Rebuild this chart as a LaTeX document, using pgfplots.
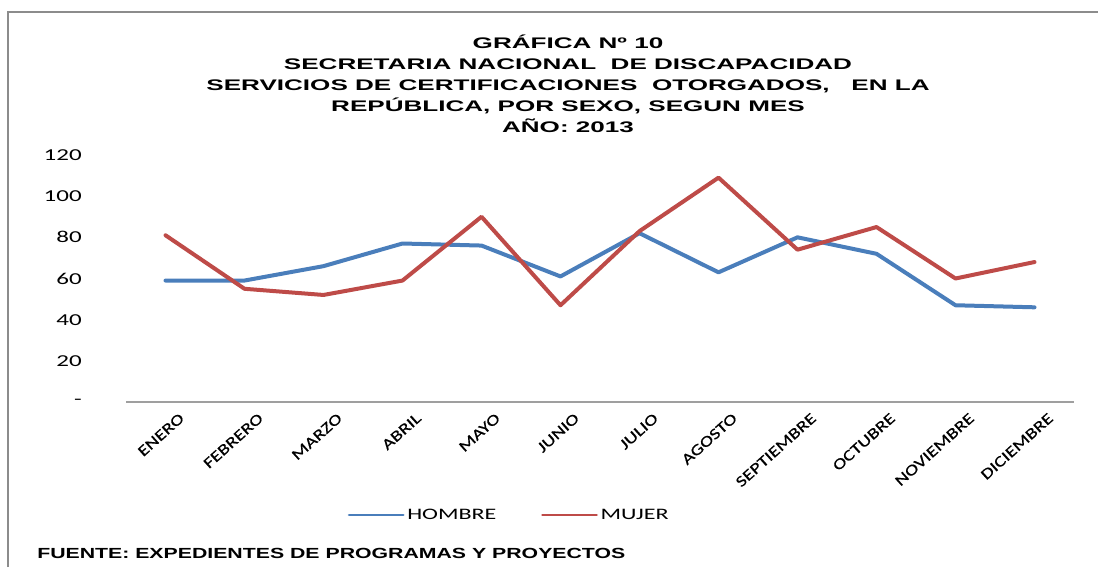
\documentclass[border=0pt]{standalone}
\usepackage{fontspec}
\usepackage{pgfplots}
\pgfplotsset{compat=1.18}
\setmainfont{Liberation Sans}
\newfontfamily\calw[FakeStretch=1.5]{Carlito}
\newfontfamily\calm[FakeStretch=1.3,FakeBold=0.6]{Carlito}
\newfontfamily\titf[FakeStretch=1.7]{Liberation Sans}
\newfontfamily\srcf[FakeStretch=1.45]{Liberation Sans}
\definecolor{hombre}{HTML}{4A7EBB}
\definecolor{mujer}{HTML}{BE4B48}
\definecolor{frame}{HTML}{8C8C8C}
\def\u{0.75pt}

\begin{document}
\begin{tikzpicture}
\path[use as bounding box] (0,0) rectangle ({1098*\u},{567*\u});
% outer chart frame (cut by the image edges)
\draw[frame, line width=1.2pt] ({8*\u},0) -- ({8*\u},{555*\u}) -- ({1098*\u},{555*\u});

\node[align=center, font=\titf\bfseries\fontsize{11.5}{15.75}\selectfont, anchor=north]
  at ({568*\u},{537*\u})
  {GRÁFICA Nº 10\\
   SECRETARIA NACIONAL \ DE DISCAPACIDAD\\
   SERVICIOS DE CERTIFICACIONES \ OTORGADOS, \ \ EN LA\\
   REPÚBLICA, POR SEXO, SEGUN MES\\
   AÑO: 2013};

\begin{axis}[
  at={({126*\u},{165*\u})}, anchor=south west,
  scale only axis, width={948*\u}, height={247*\u},
  xmin=-0.5, xmax=11.5, ymin=0, ymax=120,
  axis x line*=bottom, axis y line*=left,
  x axis line style={draw=gray!75, line width=1pt},
  y axis line style={draw=none},
  xtick={0,...,11},
  xticklabels={ENERO,FEBRERO,MARZO,ABRIL,MAYO,JUNIO,JULIO,AGOSTO,SEPTIEMBRE,OCTUBRE,NOVIEMBRE,DICIEMBRE},
  ytick={0,20,40,60,80,100,120},
  yticklabels={-,20,40,60,80,100,120},
  major tick length=0pt,
  xticklabel style={font=\calm\fontsize{11.5}{12}\selectfont, rotate=42, anchor=north east, inner sep=0pt, xshift={3*\u}, yshift={-16*\u}},
  yticklabel style={font=\calw\fontsize{12.5}{14}\selectfont, anchor=east, inner sep=0pt, xshift={-44*\u}},
  legend columns=2,
  legend style={draw=none, fill=none, at={(0.4045,-0.4575)}, anchor=center,
    font=\calw\fontsize{12}{13}\selectfont, inner sep=0pt,
    /tikz/every even column/.append style={column sep={42*\u}}},
  legend image code/.code={\draw[#1, line width=2.2pt] (0pt,0pt) -- ({54*\u},0pt);},
  every axis plot/.append style={line width=3pt, line join=round, line cap=round},
]
\addplot[hombre] coordinates {
  (0,59) (1,59) (2,66) (3,77) (4,76) (5,61) (6,82) (7,63) (8,80) (9,72) (10,47) (11,46)};
\addplot[mujer] coordinates {
  (0,81) (1,55) (2,52) (3,59) (4,90) (5,47) (6,83) (7,109) (8,74) (9,85) (10,60) (11,68)};
\legend{HOMBRE,MUJER}
\end{axis}

\node[anchor=base west, font=\srcf\bfseries\fontsize{11}{13}\selectfont, inner sep=0pt]
  at ({37*\u},{9*\u}) {FUENTE: EXPEDIENTES DE PROGRAMAS Y PROYECTOS};
\end{tikzpicture}
\end{document}
